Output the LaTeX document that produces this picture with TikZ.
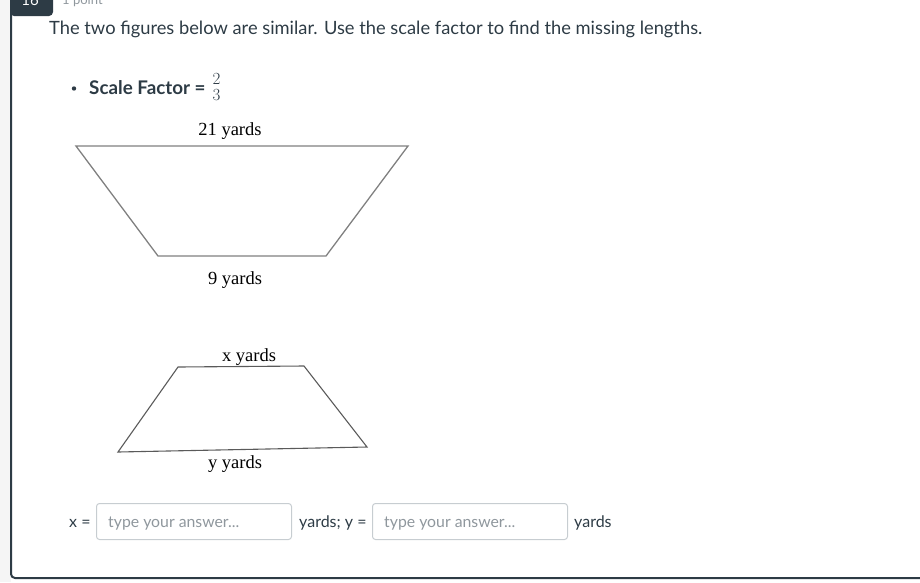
\documentclass[tikz,border=0pt]{standalone}
\usepackage{fontspec}
\setmainfont{Lato}
\newfontfamily\timesf{Liberation Serif}
\newfontfamily\lmr{Latin Modern Roman}
\definecolor{ink}{HTML}{2D3B45}
\definecolor{muted}{HTML}{8F979D}
\definecolor{boxline}{HTML}{C7CDD1}
\definecolor{sidebg}{HTML}{F5F5F5}
\definecolor{shapeA}{HTML}{808080}
\definecolor{shapeB}{HTML}{5A5A5A}
\tikzset{
  txt/.style={inner sep=0pt, anchor=base west, text=ink, font=\fontsize{18.3}{21}\selectfont},
  small/.style={inner sep=0pt, anchor=base west, text=ink, font=\fontsize{16}{18}\selectfont},
  lbl/.style={inner sep=0pt, anchor=base, text=black, font=\timesf\fontsize{18.5}{20}\selectfont},
  ansbox/.style={draw=boxline, line width=1pt, rounded corners=3pt, minimum width=195pt, minimum height=36pt, inner sep=0pt, anchor=north west},
  hint/.style={inner sep=0pt, anchor=base west, text=muted, font=\fontsize{15.8}{18}\selectfont},
  digit/.style={inner sep=0pt, anchor=base, text=ink, font=\lmr\fontsize{17}{18}\selectfont},
}
\begin{document}
\begin{tikzpicture}[x=1pt,y=-1pt]
\useasboundingbox (0,0) rectangle (920,582);
\clip (0,0) rectangle (920,582);
% side background
\fill[sidebg] (0,0) rectangle (11,582);
% frame
\draw[ink, line width=2pt, rounded corners=4pt] (11,10) -- (11,578) -- (925,578);
% tab
\fill[ink, rounded corners=4pt] (10,-10) rectangle (53,16);
\node[inner sep=0pt, text=white, font=\fontsize{15}{18}\selectfont, anchor=base] (num) at (30,5) {16};
\node[inner sep=0pt, text=muted, font=\fontsize{13}{16}\selectfont, anchor=base west] (pts) at (62,4) {1 point};
% question
\node[txt] (q) at (49,34) {The two figures below are similar. Use the scale factor to find the missing lengths.};
% bullet
\fill[ink] (74,88.5) circle (2.2pt);
\node[txt, font=\bfseries\fontsize{18.8}{21}\selectfont] (sf) at (89,94) {Scale Factor =};
\node[digit] (num2) at (216.5,84) {2};
\node[digit] (den3) at (216.5,100) {3};
% figure 1
\coordinate (a1) at (76,146);
\coordinate (b1) at (408,146);
\coordinate (c1) at (326,256);
\coordinate (d1) at (158,256);
\draw[shapeA, line width=1.3pt] (a1) -- (b1) -- (c1) -- (d1) -- cycle;
\node[lbl] (l21) at (230,135) {21 yards};
\node[lbl] (l9) at (235,284) {9 yards};
% figure 2
\coordinate (a2) at (178,367);
\coordinate (b2) at (304,366);
\coordinate (c2) at (367,447);
\coordinate (d2) at (118,452);
\draw[shapeB, line width=1.1pt] (a2) -- (b2) -- (c2) -- (d2) -- cycle;
\node[lbl] (lx) at (249,361) {x yards};
\node[lbl] (ly) at (235,468) {y yards};
% answers
\node[small] (xeq) at (69,527) {x =};
\node[ansbox] (box1) at (96,503) {};
\node[hint] (h1) at (108,527) {type your answer...};
\node[small] (yeq) at (299,527) {yards; y =};
\node[ansbox] (box2) at (372,503) {};
\node[hint] (h2) at (384,527) {type your answer...};
\node[small] (yd) at (574,527) {yards};
\end{tikzpicture}
\end{document}
